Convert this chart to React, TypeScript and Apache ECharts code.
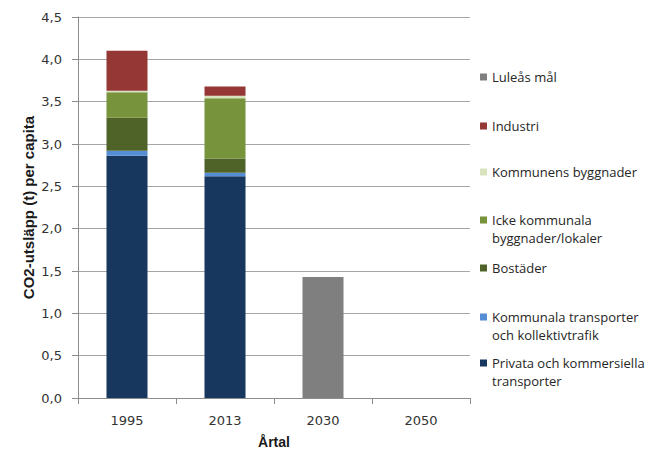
import React, { useEffect, useRef } from "react";
import * as echarts from "echarts";

const categories = ["1995", "2013", "2030", "2050"];
const privata = [2.86, 2.62, null, null];
const kommunalaTransp = [0.06, 0.04, null, null];
const bostader = [0.39, 0.17, null, null];
const ickeKommunala = [0.30, 0.71, null, null];
const kommunensBygg = [0.02, 0.03, null, null];
const industri = [0.47, 0.11, null, null];
const luleasMal = [null, null, 1.43, null];
const yTicks = ["0,0", "0,5", "1,0", "1,5", "2,0", "2,5", "3,0", "3,5", "4,0", "4,5"];

const seriesDefs = [
  { name: "Privata och kommersiella transporter", label: "Privata och kommersiella\ntransporter", data: privata, color: "#17375E", legendY: 363, lines: 2 },
  { name: "Kommunala transporter och kollektivtrafik", label: "Kommunala transporter\noch kollektivtrafik", data: kommunalaTransp, color: "#558ED5", legendY: 317, lines: 2 },
  { name: "Bostäder", label: "Bostäder", data: bostader, color: "#4F6228", legendY: 268, lines: 1 },
  { name: "Icke kommunala byggnader/lokaler", label: "Icke kommunala\nbyggnader/lokaler", data: ickeKommunala, color: "#77933C", legendY: 220, lines: 2 },
  { name: "Kommunens byggnader", label: "Kommunens byggnader", data: kommunensBygg, color: "#D7E4BD", legendY: 172, lines: 1 },
  { name: "Industri", label: "Industri", data: industri, color: "#953735", legendY: 126, lines: 1 },
  { name: "Luleås mål", label: "Luleås mål", data: luleasMal, color: "#7F7F7F", legendY: 77, lines: 1 },
];

export default function App() {
  const ref = useRef<HTMLDivElement>(null);
  useEffect(() => {
    if (!ref.current) return;
    const chart = echarts.init(ref.current, null, { renderer: "svg" });
    const LH = 18;
    const legends = seriesDefs.map((s) => {
      const two = s.lines === 2;
      return {
        show: true,
        orient: "vertical" as const,
        left: 480,
        top: s.legendY - 9,
        padding: 0,
        itemWidth: 7,
        itemHeight: two ? 7 + LH : 7,
        icon: two ? "path://M0,0h7v7h-7z M0,24.99h0.01v0.01h-0.01z" : "rect",
        selectedMode: false,
        data: [s.name],
        formatter: () => s.label,
        textStyle: {
          fontFamily: "Open Sans",
          fontSize: 13,
          color: "#262626",
          lineHeight: LH,
        },
      };
    });
    chart.setOption({
      animation: false,
      backgroundColor: "#ffffff",
      grid: { left: 78, width: 392, top: 17, height: 385 },
      legend: legends,
      xAxis: {
        type: "category",
        data: categories,
        name: "Årtal",
        nameLocation: "middle",
        nameGap: 37,
        nameMoveOverlap: false,
        nameTextStyle: { fontFamily: "Liberation Sans", fontWeight: "bold", fontSize: 14, color: "#1a1a1a" },
        axisLine: { lineStyle: { color: "#8c8c8c" } },
        axisTick: { show: true, length: 6, lineStyle: { color: "#8c8c8c" } },
        axisLabel: { fontFamily: "DejaVu Sans", fontSize: 13, color: "#333", margin: 16 },
      },
      yAxis: {
        type: "value",
        min: 0,
        max: 4.5,
        interval: 0.5,
        name: "CO2-utsläpp (t) per capita",
        nameLocation: "middle",
        nameGap: 42,
        nameMoveOverlap: false,
        nameRotate: 90,
        nameTextStyle: { fontFamily: "Liberation Sans", fontWeight: "bold", fontSize: 15, color: "#1a1a1a" },
        axisLine: { show: true, lineStyle: { color: "#8c8c8c" } },
        axisTick: { show: true, length: 6, lineStyle: { color: "#8c8c8c" } },
        splitLine: { lineStyle: { color: "#a6a6a6", width: 1 } },
        axisLabel: {
          fontFamily: "DejaVu Sans",
          fontSize: 13,
          color: "#333",
          margin: 16,
          formatter: (v: number) => yTicks[Math.round(v / 0.5)] ?? "",
        },
      },
      series: seriesDefs.map((s) => ({
        name: s.name,
        type: "bar",
        stack: "total",
        barWidth: 41,
        data: s.data.map((v) => (v === null ? "-" : v)),
        itemStyle: { color: s.color },
      })),
    });
    return () => chart.dispose();
  }, []);
  return <div ref={ref} style={{ width: 661, height: 454, position: "absolute", left: 0, top: 0 }} />;
}
